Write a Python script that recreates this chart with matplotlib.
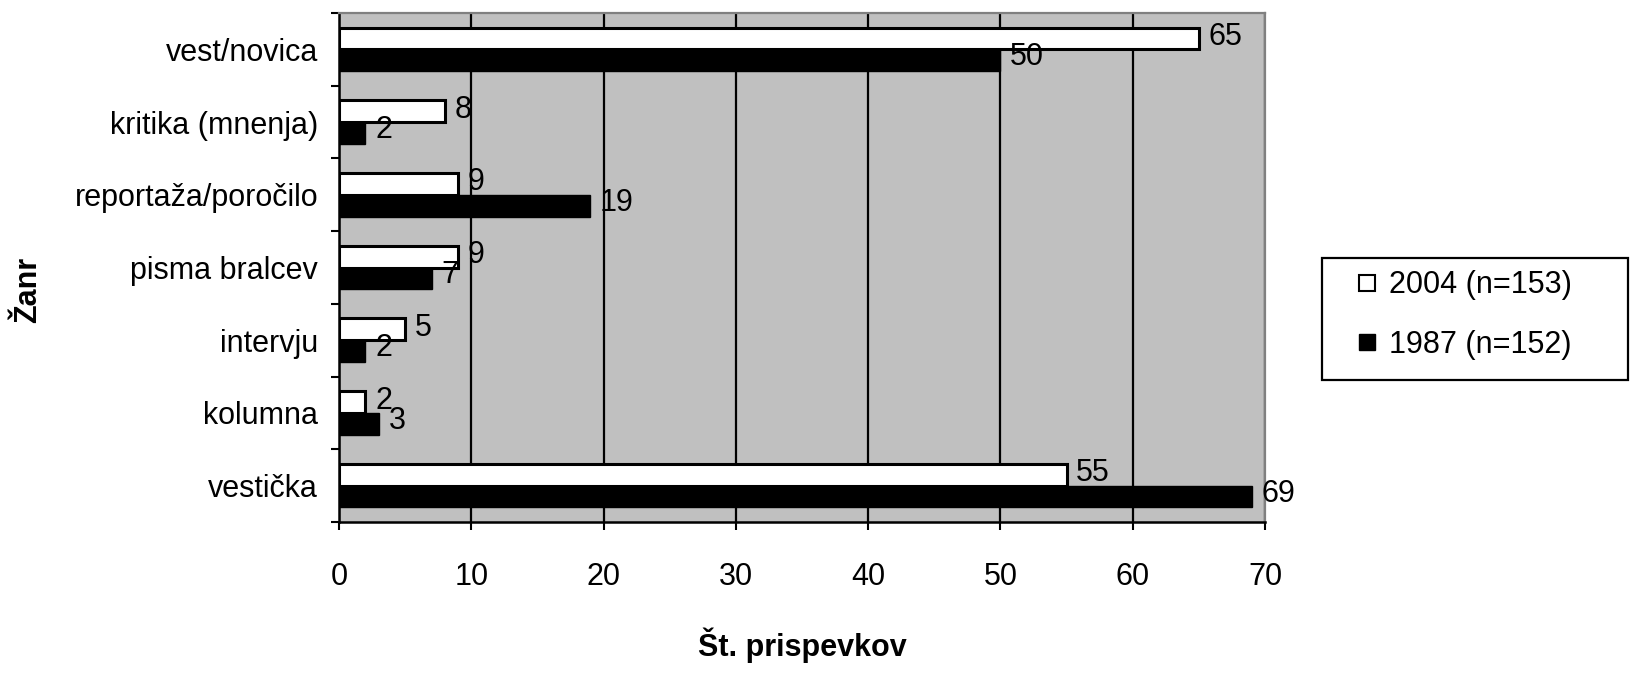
import numpy as np
import matplotlib
matplotlib.use('Agg')
import matplotlib.pyplot as plt
from matplotlib.lines import Line2D
from matplotlib.patches import Rectangle

plt.rcParams['font.family'] = ['Liberation Sans', 'DejaVu Sans']

genres = ['vest/novica', 'kritika (mnenja)', 'reportaža/poročilo', 'pisma bralcev',
          'intervju', 'kolumna', 'vestička']
y2004 = [65, 8, 9, 9, 5, 2, 55]
y1987 = [50, 2, 19, 7, 2, 3, 69]
lab2004 = '2004 (n=153)'
lab1987 = '1987 (n=152)'

W, H = 1631, 692
fs = 22
fig = plt.figure(figsize=(W / 100, H / 100), dpi=100)
ax = fig.add_axes([339 / W, 1 - 522 / H, 926 / W, 509 / H])
ax.set_facecolor('#c0c0c0')

pos = np.arange(len(genres))
h = 0.3
ax.barh(pos - h / 2, y2004, height=h, color='white', edgecolor='black', lw=2.2, zorder=3)
ax.barh(pos + h / 2, y1987, height=h, color='black', edgecolor='black', lw=1, zorder=3)

for i, (a, b) in enumerate(zip(y2004, y1987)):
    ax.annotate(str(a), (a, i - h / 2 - 0.02), xytext=(7, 0), textcoords='offset points',
                va='center', ha='left', fontsize=fs, zorder=4)
    ax.annotate(str(b), (b, i + h / 2 - 0.04), xytext=(7, 0), textcoords='offset points',
                va='center', ha='left', fontsize=fs, zorder=4)

ax.set_xlim(0, 70)
ax.set_ylim(len(genres) - 0.5, -0.5)
ax.set_xticks(np.arange(0, 71, 10))
ax.set_yticks(pos)
ax.set_yticklabels(genres)
ax.set_yticks(np.arange(-0.5, len(genres)), minor=True)
ax.tick_params(axis='y', which='major', length=0, pad=15, labelsize=fs)
ax.tick_params(axis='y', which='minor', length=6, width=1.5, direction='out')
ax.tick_params(axis='x', length=6, width=1.5, direction='out', pad=23, labelsize=fs)
ax.grid(axis='x', color='black', lw=1.6, zorder=1)
ax.set_axisbelow(True)

for s in ['left', 'bottom']:
    ax.spines[s].set_linewidth(1.8)
    ax.spines[s].set_color('black')
for s in ['top', 'right']:
    ax.spines[s].set_linewidth(1.6)
    ax.spines[s].set_color('#808080')

fig.text(802 / W, 1 - 645 / H, 'Št. prispevkov', fontsize=fs, fontweight='bold',
         ha='center', va='center')
fig.text(28 / W, 1 - 290 / H, 'Žanr', fontsize=fs, fontweight='bold',
         ha='center', va='center', rotation=90)

# legend box
fig.patches.append(Rectangle((1322 / W, 1 - 380 / H), 306 / W, 122 / H,
                             transform=fig.transFigure, facecolor='white',
                             edgecolor='black', lw=1.6))
handles = [Line2D([], [], marker='s', ls='none', ms=12, mfc='white', mec='black', mew=1.5),
           Line2D([], [], marker='s', ls='none', ms=12, mfc='black', mec='black')]
leg = fig.legend(handles, [lab2004, lab1987], loc='center left',
                 bbox_to_anchor=(1343 / W, 1 - 315 / H), fontsize=fs, frameon=False,
                 handlelength=0.6, handletextpad=0.4, labelspacing=0.95, borderpad=0)

plt.savefig('out.png', dpi=100)
